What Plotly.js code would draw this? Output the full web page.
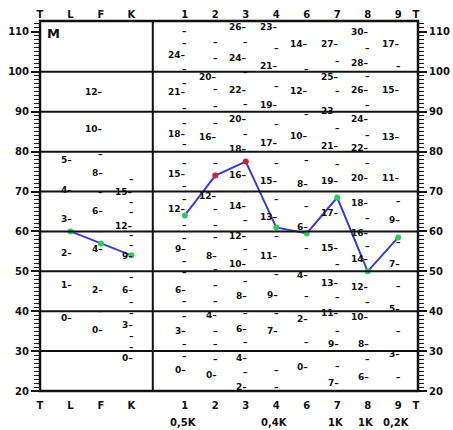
<!DOCTYPE html>
<html><head><meta charset="utf-8">
<script src="https://cdn.plot.ly/plotly-3.0.1.min.js"></script>
<style>html,body{margin:0;padding:0;background:#fff}#chart{width:453px;height:430px}</style>
</head><body><div id="chart"></div>
<script>
// ---- profile values (T scores) ----
const validityScales = ["L","F","K"];
const validityT = [60, 57, 54];
const clinicalScales = ["1","2","3","4","6","7","8","9"];
const clinicalT = [64, 74, 77.5, 61, 59.5, 68.5, 50, 58.5];

// ---- axis labels ----
const topTickLabels = ["T","L","F","K","1","2","3","4","6","7","8","9","T"];
const bottomSubLabels = ["","","","","0,5K","","","0,4K","","1K","1K","0,2K",""];
const yTickValues = [20,30,40,50,60,70,80,90,100,110];
const gridValues = [30,40,50,60,70,80,90,100];

// ---- raw-score ladders printed in each column (label, T position) ----
const colL_labels = ["5","4","3","2","1","0"];
const colL_T = [78,70.5,63,54.5,46.5,38.25];
const colL_dashT = [];
const colF_labels = ["12","10","8","6","4","2","0"];
const colF_T = [95,85.75,74.75,65,55.5,45.25,35.25];
const colF_dashT = [79.5,70,60,40];
const colK_labels = ["15","12","9","6","3","0"];
const colK_T = [70,61.25,53.75,45.25,36.5,28.25];
const colK_dashT = [73.25,67.5,64.75,59,56.5,48.5,42.25,39.5,33.8,31];
const col1_labels = ["24","21","18","15","12","9","6","3","0"];
const col1_T = [104.25,95,84.5,74.5,65.5,55.5,45.25,35,25.25];
const col1_dashT = [110.25,107.25,100.75,97.25,91,87.25,82,77.25,71.5,68.25,61.5,58.25,52.5,49.75,42.5,38.75,31.75,28.75];
const col2_labels = ["20","16","12","8","4","0"];
const col2_T = [98.75,83.75,69,53.75,39,24];
const col2_dashT = [107.5,103.5,95.75,91.5,87.25,77.25,65.5,61.5,58.5,50.5,46.5,42.5,35,31.75,28];
const col3_labels = ["26","24","22","20","18","16","14","12","10","8","6","4","2"];
const col3_T = [111.25,103.5,95.5,88.25,80.75,74.25,66.5,58.75,51.75,43.75,35.5,28.25,21];
const col3_dashT = [107.5,100,92,84.5,70.25,62.75,55.5,47.5,39.5,32.25,24.75];
const col4_labels = ["23","21","19","17","15","13","11","9","7"];
const col4_T = [111.25,101.5,91.75,82.25,72.75,63.5,53.75,44,35];
const col4_dashT = [106,96.5,87,77.25,68.25,58.75,49.25,39.5,25.25,21];
const col6_labels = ["14","12","10","8","6","4","2","0"];
const col6_T = [107,95.25,84,72,61,49,38,26];
const col6_dashT = [100.75,89.5,78,66.5,55.75,43.75,32.25];
const col7_labels = ["27","25","23","21","19","17","15","13","11","9","7"];
const col7_T = [107,98.75,90.25,81.5,72.75,64.5,55.75,47,39.5,31.75,22];
const col7_dashT = [102.75,95.25,86,77,51.75,43.5,35,26.25];
const col8_labels = ["30","28","26","24","22","20","18","16","14","12","10","8","6"];
const col8_T = [110,102.25,95.5,88.25,81,73.5,67.25,59.5,53,46,38.5,31.75,23.5];
const col8_dashT = [106,99,91.75,84.25,77.25,63.25,56.25,42.25,28];
const col9_labels = ["17","15","13","11","9","7","5","3"];
const col9_T = [107,95.5,83.75,73.5,62.75,51.75,40.5,29.25];
const col9_dashT = [101.5,67.75,57.25,46.25,35,23.5];

// ---- horizontal placement of columns (axis units) ----
const valPos = validityScales.map((s,i)=>i+1);
const cliPos = clinicalScales.map((s,i)=>4.75+i);
const tickPos = [0].concat(valPos, cliPos, [12.33]);
const dividerX = 3.7;

const ladders = [
  [valPos[0], colL_labels, colL_T, colL_dashT],
  [valPos[1], colF_labels, colF_T, colF_dashT],
  [valPos[2], colK_labels, colK_T, colK_dashT],
  [cliPos[0], col1_labels, col1_T, col1_dashT],
  [cliPos[1], col2_labels, col2_T, col2_dashT],
  [cliPos[2], col3_labels, col3_T, col3_dashT],
  [cliPos[3], col4_labels, col4_T, col4_dashT],
  [cliPos[4], col6_labels, col6_T, col6_dashT],
  [cliPos[5], col7_labels, col7_T, col7_dashT],
  [cliPos[6], col8_labels, col8_T, col8_dashT],
  [cliPos[7], col9_labels, col9_T, col9_dashT]
];

const FAM = "DejaVu Sans, Liberation Sans, Arial, sans-serif";
const labFont = {family:FAM, size:9, color:"#111", weight:"bold"};
const annotations = [];
ladders.forEach(([x, labs, ts, dashes])=>{
  labs.forEach((l,i)=>annotations.push({x:x+0.12, y:ts[i], xref:"x", yref:"y", text:l+"\u2013", showarrow:false, xanchor:"right", yanchor:"middle", font:labFont}));
  dashes.forEach(t=>annotations.push({x:x, y:t, xref:"x", yref:"y", text:"\u2013", showarrow:false, xanchor:"center", yanchor:"middle", font:labFont}));
});
annotations.push({x:0.45, y:109.5, xref:"x", yref:"y", text:"M", showarrow:false, font:{family:FAM, size:13, color:"#111", weight:"bold"}});
bottomSubLabels.forEach((s,i)=>{
  if (s) annotations.push({x:tickPos[i]-0.05, y:0, xref:"x", yref:"paper", yshift:-31, text:s, showarrow:false, xanchor:"center", yanchor:"middle", font:{family:FAM, size:10, color:"#111", weight:"bold"}});
});

const shapes = gridValues.map(v=>({type:"line", xref:"paper", yref:"y", x0:0, x1:1, y0:v, y1:v, line:{color:"#111", width:2}}));
shapes.push({type:"line", xref:"x", yref:"paper", x0:dividerX, x1:dividerX, y0:0, y1:1, line:{color:"#111", width:2}});
shapes.push({type:"rect", xref:"paper", yref:"paper", x0:0, x1:1, y0:0, y1:1, line:{color:"#111", width:2.5}});

const colorFor = t => t >= 70 ? "#d81e3c" : "#2ecc55";
const lineStyle = {color:"#3b3fd6", width:2};
const traces = [
  {x:valPos, y:validityT, mode:"lines+markers", line:lineStyle, marker:{size:6, color:validityT.map(colorFor)}, hoverinfo:"skip", showlegend:false},
  {x:cliPos, y:clinicalT, mode:"lines+markers", line:lineStyle, marker:{size:6, color:clinicalT.map(colorFor)}, hoverinfo:"skip", showlegend:false},
  {x:[0], y:[20], xaxis:"x2", yaxis:"y2", mode:"markers", marker:{opacity:0}, hoverinfo:"skip", showlegend:false}
];

const tickFont = {family:FAM, size:10, color:"#111", weight:"bold"};
const yCommon = {range:[20,112.75], tickvals:yTickValues, ticks:"outside", ticklen:8, tickwidth:2, tickcolor:"#111",
  minor:{dtick:1, ticks:"outside", ticklen:5, tickwidth:1, tickcolor:"#111", showgrid:false},
  showgrid:false, zeroline:false, showline:false, tickfont:tickFont, fixedrange:true};
const xRange = [0,12.4];

const layout = {
  width:453, height:430,
  margin:{l:40, r:35, t:21, b:39},
  paper_bgcolor:"#fff", plot_bgcolor:"#fff",
  xaxis:{range:xRange, tickvals:tickPos, ticktext:topTickLabels, ticks:"", ticklabelstandoff:7, showgrid:false, zeroline:false, showline:false, tickfont:tickFont, fixedrange:true},
  xaxis2:{range:xRange, overlaying:"x", side:"top", tickvals:tickPos, ticktext:topTickLabels, ticks:"", showgrid:false, zeroline:false, showline:false, tickfont:tickFont, fixedrange:true},
  yaxis:Object.assign({side:"left"}, yCommon),
  yaxis2:Object.assign({side:"right", overlaying:"y"}, yCommon),
  shapes:shapes,
  annotations:annotations,
  showlegend:false
};

Plotly.newPlot("chart", traces, layout, {displayModeBar:false, staticPlot:true});
</script>
</body></html>
